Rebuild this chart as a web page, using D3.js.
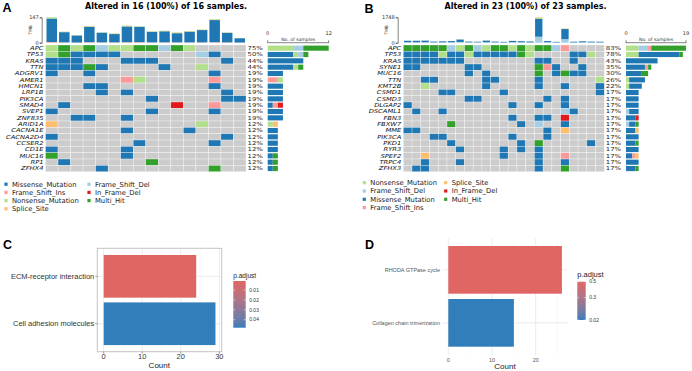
<!DOCTYPE html>
<html><head><meta charset="utf-8">
<script src="https://cdn.jsdelivr.net/npm/d3@7"></script>
<style>body{margin:0;background:#fff} svg{display:block}</style>
</head><body>
<svg id="chart" width="692" height="371"></svg>
<script>
// ---------------- DATA ----------------
// mutation class codes: M Missense, I Frame_Shift_Ins, N Nonsense, S Splice_Site, D Frame_Shift_Del, F In_Frame_Del, H Multi_Hit
const classNames = {M:"Missense_Mutation", I:"Frame_Shift_Ins", N:"Nonsense_Mutation", S:"Splice_Site", D:"Frame_Shift_Del", F:"In_Frame_Del", H:"Multi_Hit"};

// Panel A (16 samples)
const titleA = "Altered in 16 (100%) of 16 samples.";
const genesA = ["APC","TP53","KRAS","TTN","ADGRV1","AMER1","HMCN1","LRP1B","PIK3CA","SMAD4","SVEP1","ZNF835","ARID1A","CACNA1E","CACNA2D4","CCSER2","CD1E","MUC16","RP1","ZFHX4"];
const matrixA = [
  "NHNHDNNHHDHN....",
  "NHMMMM......DM..",
  "MMM...MMM.....M.",
  "MMMHM....M..N...",
  "M..M.........M..",
  "......IN.....I..",
  "...MM........M..",
  "....M.M.......M.",
  "........M.....MM",
  ".M........F..I..",
  "M.......M....M..",
  "..MM..M.........",
  "S...........N...",
  "......M....M....",
  "M.............M.",
  ".......M.....M..",
  "M.....M.........",
  "H.....M.........",
  ".M......H.......",
  "....M........H.."
];
const pctA = ["75%","50%","44%","44%","19%","19%","19%","19%","19%","19%","19%","19%","12%","12%","12%","12%","12%","12%","12%","12%"];
const tmbA_FSI      = [4,2,1,3,2,2,3,3,2,2,2,2,2,3,2,1];
const tmbA_Missense = [136,59,41,89,56,48,91,89,61,64,53,62,71,128,55,25];
const tmbA_Nonsense = [7,3,2,3,2,3,3,3,3,3,3,3,3,4,2,1];
const tmbA_Splice   = [0,0,0,2,0,1,2,0,0,1,2,1,1,2,1,0];
const tmbTicksA = [0,147];
const sampleTicksA = [0,12];
const legendA = [["M","I","N","S"],["D","F","H"]];

// Panel B (23 samples)
const titleB = "Altered in 23 (100%) of 23 samples.";
const genesB = ["APC","TP53","KRAS","SYNE1","MUC16","TTN","KMT2B","CSMD1","CSMD3","DLGAP2","DSCAML1","FBN3","FBXW7","MME","PIK3CA","PKD1","RYR3","SPEF2","TRPC4","ZFHX3"];
const matrixB = [
  "HHHHHDNHDNHHNHNHHDI....",
  "MMMMNMMNMMMMMHN....MMN.",
  "MMMMMMM........MM..M...",
  "MM.....MM......HIM..M..",
  ".......M.M.....H.MHMM..",
  "..MM.....MM....M......N",
  "..N......M.....M..M...M",
  "....MM.....M..........M",
  ".......MM.......M.M....",
  "M...........M..M..M....",
  ".M..M.............DM...",
  "............M..MM.F....",
  ".....H.......M.D..M....",
  "MM..............M.S....",
  "...MM.......M...M......",
  ".....M.......M.H.....M.",
  "......M....M.M.M.......",
  "..S........M...M..I....",
  "..M...M........M..M....",
  ".MM............M..H...."
];
const pctB = ["83%","78%","43%","35%","30%","26%","22%","17%","17%","17%","17%","17%","17%","17%","17%","17%","17%","17%","17%","17%"];
const tmbB_FSD      = [30,30,30,20,20,30,50,20,20,30,20,15,30,25,20,410,30,15,250,15,20,20,15];
const tmbB_Missense = [103,103,113,56,76,83,169,56,46,113,56,42,93,80,66,1240,84,42,690,52,76,56,52];
const tmbB_Nonsense = [5,5,5,3,3,5,8,3,3,5,3,2,5,4,3,48,4,2,25,2,3,3,2];
const tmbB_Splice   = [2,2,2,1,1,2,3,1,1,2,1,1,2,1,1,50,2,1,20,1,1,1,1];
const tmbTicksB = [0,1748];
const sampleTicksB = [0,19];
const legendB = [["N","D","M","I"],["S","F","H"]];

// Panel C (KEGG enrichment)
const termsC = ["ECM-receptor interaction","Cell adhesion molecules"];
const countsC = [24,29];
const padjC = [0.0009,0.0481];
const xTicksC = [0,10,20,30];
const legendTicksC = [0.01,0.02,0.03,0.04];

// Panel D (Reactome enrichment)
const termsD = ["RHODA GTPase cycle","Collagen chain trimerization"];
const countsD = [26,15];
const padjD = [0.5,0.02];
const xTicksD = [0,10,20];
const legendTicksD = [0.5,0.3,0.02];

// ---------------- DRAW ----------------
const svg = d3.select("#chart");
const colorOf = {M:"#1F78B4", I:"#FB9A99", N:"#B2DF8A", S:"#FDBF6F", D:"#A6CEE3", F:"#E31A1C", H:"#33A02C"};
const OF = "DejaVu Sans, sans-serif";
const GF = "Liberation Sans, Arial, sans-serif";

function stretch(sel, k) {
  sel.each(function () {
    const w = this.getComputedTextLength();
    d3.select(this).attr("textLength", w * k).attr("lengthAdjust", "spacingAndGlyphs");
  });
}

function letter(t, x, y) {
  svg.append("text").attr("x", x).attr("y", y).attr("font-family", GF).attr("font-weight", "bold")
    .attr("font-size", 12.5).attr("fill", "#000").text(t);
}

function oncoplot(o) {
  const g = svg.append("g");
  const nS = o.matrix[0].length;
  const x = d3.scaleBand().domain(d3.range(nS)).range([o.gx0, o.gx1]);
  const y = d3.scaleBand().domain(o.genes).range([45, 171.7]);

  // title
  g.append("text").attr("x", o.titleX).attr("y", 9).attr("text-anchor", "middle")
    .attr("font-family", OF).attr("font-weight", "bold").attr("font-size", 8).text(o.title);

  // cells
  o.genes.forEach((gene, r) => {
    g.append("g").selectAll("rect").data(o.matrix[r].split("")).join("rect")
      .attr("x", (d, i) => x(i)).attr("y", y(gene))
      .attr("width", x.bandwidth()).attr("height", y.bandwidth())
      .attr("fill", d => d === "." ? "#CCCCCC" : colorOf[d])
      .attr("stroke", "#ffffff").attr("stroke-width", 0.5).attr("stroke-opacity", 0.6);
  });

  // gene labels
  const gl = g.append("g").selectAll("text").data(o.genes).join("text")
    .attr("x", o.gx0 - 2).attr("y", d => y(d) + y.bandwidth() / 2).attr("dy", "0.36em")
    .attr("text-anchor", "end").attr("font-family", OF).attr("font-style", "italic")
    .attr("font-size", 5.4).attr("fill", "#111").text(d => d);
  stretch(gl, 1.25);

  // percent labels
  const pl = g.append("g").selectAll("text").data(o.pct).join("text")
    .attr("x", o.gx1 + 1.5).attr("y", (d, i) => y(o.genes[i]) + y.bandwidth() / 2).attr("dy", "0.36em")
    .attr("font-family", OF).attr("font-size", 5.4).attr("fill", "#222").text(d => d);
  stretch(pl, 1.28);

  // TMB stacked bars
  const rows = d3.range(nS).map(i => { const r = {}; o.tmbOrder.forEach(k => r[k] = o.tmb[k][i]); return r; });
  const series = d3.stack().keys(o.tmbOrder)(rows);
  const ty = d3.scaleLinear().domain([0, o.tmbTicks[1]]).range([42.7, 17.3]);
  const pad = x.bandwidth() * 0.08;
  series.forEach(s => {
    g.append("g").selectAll("rect").data(s).join("rect")
      .attr("x", (d, i) => x(i) + pad).attr("width", x.bandwidth() - 2 * pad)
      .attr("y", d => ty(d[1])).attr("height", d => Math.max(0, ty(d[0]) - ty(d[1])))
      .attr("fill", colorOf[s.key]);
  });
  // TMB axis
  const ax = g.append("g").attr("transform", `translate(${o.tmbAxisX},0)`)
    .call(d3.axisLeft(ty).tickValues(o.tmbTicks).tickSize(2).tickPadding(1).tickFormat(d3.format("d")));
  ax.select(".domain").attr("stroke", "#333").attr("stroke-width", 0.6);
  ax.selectAll(".tick line").attr("stroke", "#333").attr("stroke-width", 0.6);
  ax.selectAll("text").attr("font-family", OF).attr("font-size", 5).attr("fill", "#333");
  g.append("text").attr("transform", `translate(${o.tmbAxisX - 10},30) rotate(-90)`)
    .attr("text-anchor", "middle").attr("font-family", OF).attr("font-size", 4.5).attr("fill", "#333").text("TMB");

  // right side gene bars
  const bx = d3.scaleLinear().domain([0, o.sampleTicks[1]]).range([o.bx0, o.bx1]);
  o.genes.forEach((gene, r) => {
    const cells = o.matrix[r].split("");
    let acc = 0;
    const segs = [];
    o.barOrder.forEach(k => {
      const c = cells.filter(v => v === k).length;
      if (c > 0) { segs.push({k, a: acc, b: acc + c}); acc += c; }
    });
    g.append("g").selectAll("rect").data(segs).join("rect")
      .attr("x", d => bx(d.a)).attr("width", d => bx(d.b) - bx(d.a))
      .attr("y", y(gene) + 0.6).attr("height", y.bandwidth() - 1.2)
      .attr("fill", d => colorOf[d.k]);
  });
  // bar axis (bracket)
  const ba = g.append("g");
  ba.append("line").attr("x1", bx(0)).attr("x2", bx(o.sampleTicks[1])).attr("y1", 42.7).attr("y2", 42.7)
    .attr("stroke", "#333").attr("stroke-width", 0.6);
  ba.selectAll("line.t").data(o.sampleTicks).join("line").attr("class", "t")
    .attr("x1", d => bx(d)).attr("x2", d => bx(d)).attr("y1", 40.3).attr("y2", 43)
    .attr("stroke", "#333").attr("stroke-width", 0.6);
  ba.selectAll("text.t").data(o.sampleTicks).join("text").attr("class", "t")
    .attr("x", d => bx(d)).attr("y", 35).attr("text-anchor", "middle")
    .attr("font-family", OF).attr("font-size", 5).attr("fill", "#333").text(d => d);
  ba.append("text").attr("x", (bx(0) + bx(o.sampleTicks[1])) / 2).attr("y", 40.5).attr("text-anchor", "middle")
    .attr("font-family", OF).attr("font-size", 4.6).attr("fill", "#333").text("No. of samples");

  // legend
  o.legend.forEach((col, ci) => {
    col.forEach((k, ri) => {
      const ly = o.legY + ri * o.legStep;
      g.append("rect").attr("x", o.legX[ci] - 1.6).attr("y", ly - 1.6).attr("width", 3.2).attr("height", 3.2)
        .attr("fill", colorOf[k]);
      g.append("text").attr("x", o.legX[ci] + 6).attr("y", ly).attr("dy", "0.36em")
        .attr("font-family", OF).attr("font-size", 6.8).attr("fill", "#222").text(classNames[k]);
    });
  });
}

letter("A", 2.5, 12);
oncoplot({
  title: titleA, titleX: 166, genes: genesA, matrix: matrixA, pct: pctA,
  gx0: 45.5, gx1: 246,
  tmb: {I: tmbA_FSI, M: tmbA_Missense, N: tmbA_Nonsense, S: tmbA_Splice}, tmbOrder: ["I","M","N","S"],
  tmbTicks: tmbTicksA, tmbAxisX: 41.7,
  bx0: 267.7, bx1: 328.7, sampleTicks: sampleTicksA, barOrder: ["M","I","N","S","D","F","H"],
  legend: legendA, legX: [6, 89], legY: 184.2, legStep: 8.2
});

letter("B", 364.5, 12.5);
oncoplot({
  title: titleB, titleX: 525.5, genes: genesB, matrix: matrixB, pct: pctB,
  gx0: 403.3, gx1: 604.3,
  tmb: {D: tmbB_FSD, M: tmbB_Missense, N: tmbB_Nonsense, S: tmbB_Splice}, tmbOrder: ["D","M","N","S"],
  tmbTicks: tmbTicksB, tmbAxisX: 397.7,
  bx0: 626, bx1: 686, sampleTicks: sampleTicksB, barOrder: ["N","D","M","I","S","F","H"],
  legend: legendB, legX: [364.3, 445.7], legY: 182.7, legStep: 8.3
});

// ---------- enrichment bar plots ----------
const RED = "#e06663", BLUE = "#327eba";
function enrich(o) {
  const g = svg.append("g");
  const x = d3.scaleLinear().domain([0, o.xMaxTick]).range(o.xRange);
  const y = d3.scaleBand().domain(o.terms).range(o.yRange).paddingInner(0.1).paddingOuter(0.05);
  const col = d3.scaleLinear().domain(o.colDomain).range(o.colRange).interpolate(d3.interpolateLab);
  const [px0, px1, py0, py1] = o.panel;

  // grid
  g.append("g").selectAll("line").data(o.minorGrid).join("line")
    .attr("x1", d => x(d)).attr("x2", d => x(d)).attr("y1", py0).attr("y2", py1)
    .attr("stroke", "#f2f2f2").attr("stroke-width", 0.5);
  g.append("g").selectAll("line").data(o.majorGrid).join("line")
    .attr("x1", d => x(d)).attr("x2", d => x(d)).attr("y1", py0).attr("y2", py1)
    .attr("stroke", "#e6e6e6").attr("stroke-width", 0.8);
  g.append("g").selectAll("line").data(o.terms).join("line")
    .attr("x1", px0).attr("x2", px1).attr("y1", d => y(d) + y.bandwidth() / 2).attr("y2", d => y(d) + y.bandwidth() / 2)
    .attr("stroke", "#e6e6e6").attr("stroke-width", 0.8);

  // bars
  g.append("g").selectAll("rect").data(o.terms).join("rect")
    .attr("x", x(0)).attr("y", d => y(d)).attr("height", y.bandwidth())
    .attr("width", (d, i) => x(o.counts[i]) - x(0))
    .attr("fill", (d, i) => col(o.padj[i]));

  if (o.border) {
    g.append("rect").attr("x", px0).attr("y", py0).attr("width", px1 - px0).attr("height", py1 - py0)
      .attr("fill", "none").attr("stroke", "#c4c4c4").attr("stroke-width", 1);
    g.append("g").selectAll("line").data(o.xTicks).join("line")
      .attr("x1", d => x(d)).attr("x2", d => x(d)).attr("y1", py1).attr("y2", py1 + 2)
      .attr("stroke", "#555").attr("stroke-width", 0.6);
    g.append("g").selectAll("line").data(o.terms).join("line")
      .attr("x1", px0 - 2).attr("x2", px0).attr("y1", d => y(d) + y.bandwidth() / 2).attr("y2", d => y(d) + y.bandwidth() / 2)
      .attr("stroke", "#555").attr("stroke-width", 0.6);
  }
  // x tick labels
  g.append("g").selectAll("text").data(o.xTicks).join("text")
    .attr("x", d => x(d)).attr("y", o.xLabY).attr("text-anchor", "middle")
    .attr("font-family", GF).attr("font-size", o.tickFs).attr("fill", o.tickCol).text(d => d);
  // y labels
  g.append("g").selectAll("text").data(o.terms).join("text")
    .attr("x", o.yLabX).attr("y", d => y(d) + y.bandwidth() / 2).attr("dy", "0.35em").attr("text-anchor", "end")
    .attr("font-family", GF).attr("font-size", o.yFs).attr("fill", o.tickCol).text(d => d);
  // x title
  g.append("text").attr("x", o.countX).attr("y", o.countY).attr("text-anchor", "middle")
    .attr("font-family", GF).attr("font-size", 8).attr("fill", "#222").text("Count");

  // colour legend
  const [lx0, lx1, ly0, ly1] = o.leg;
  const ly = d3.scaleLinear().domain(o.legDomain).range([ly0, ly1]);
  const gid = "grad" + o.id;
  const grad = svg.append("defs").append("linearGradient").attr("id", gid)
    .attr("x1", 0).attr("x2", 0).attr("y1", 0).attr("y2", 1);
  d3.range(0, 1.0001, 0.1).forEach(t => {
    grad.append("stop").attr("offset", t).attr("stop-color", col(ly.invert(ly0 + t * (ly1 - ly0))));
  });
  g.append("rect").attr("x", lx0).attr("y", ly0).attr("width", lx1 - lx0).attr("height", ly1 - ly0)
    .attr("fill", `url(#${gid})`);
  o.legTicks.forEach(v => {
    g.append("line").attr("x1", lx0).attr("x2", lx0 + 2).attr("y1", ly(v)).attr("y2", ly(v)).attr("stroke", "#fff").attr("stroke-width", 0.5);
    g.append("line").attr("x1", lx1 - 2).attr("x2", lx1).attr("y1", ly(v)).attr("y2", ly(v)).attr("stroke", "#fff").attr("stroke-width", 0.5);
    g.append("text").attr("x", lx1 + 3.5).attr("y", ly(v)).attr("dy", "0.35em")
      .attr("font-family", GF).attr("font-size", 5).attr("fill", "#333").text(v);
  });
  g.append("text").attr("x", lx0).attr("y", o.legTitleY)
    .attr("font-family", GF).attr("font-size", o.legTitleFs).attr("fill", "#222").text("p.adjust");
}

letter("C", 3, 249);
enrich({
  id: "C", terms: termsC, counts: countsC, padj: padjC,
  xMaxTick: 30, xRange: [103.7, 219.3], yRange: [252.63, 347.43],
  panel: [97.3, 221.7, 248.3, 351.7], border: true,
  majorGrid: [0, 10, 20, 30], minorGrid: [5, 15, 25], xTicks: xTicksC,
  colDomain: [0.0009, 0.0481], colRange: [RED, BLUE],
  xLabY: 359.2, tickFs: 7.5, tickCol: "#333", yLabX: 94.3, yFs: 7.5,
  countX: 159.3, countY: 368,
  leg: [233.3, 245.7, 281, 327.7], legDomain: [0.0009, 0.0481], legTicks: legendTicksC,
  legTitleFs: 6.5, legTitleY: 277.5
});

letter("D", 365, 249);
enrich({
  id: "D", terms: termsD, counts: countsD, padj: padjD,
  xMaxTick: 20, xRange: [448.3, 535.7], yRange: [243.35, 349.35],
  panel: [442.6, 567.7, 238.5, 355], border: false,
  majorGrid: [0, 10, 20], minorGrid: [5, 15, 25], xTicks: xTicksD,
  colDomain: [0.02, 0.5], colRange: [BLUE, RED],
  xLabY: 361.5, tickFs: 5.5, tickCol: "#555", yLabX: 440, yFs: 5.5,
  countX: 505, countY: 368.5,
  leg: [577.3, 585.7, 281.7, 320], legDomain: [0.5, 0.02], legTicks: legendTicksD,
  legTitleFs: 7.5, legTitleY: 276.5
});
</script>
</body></html>
